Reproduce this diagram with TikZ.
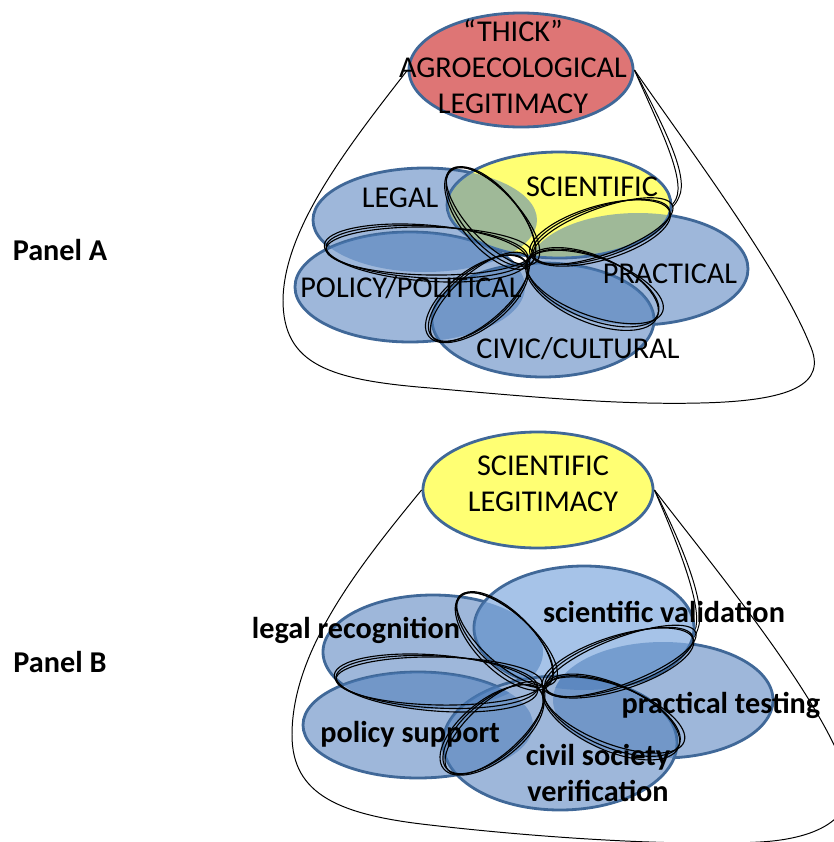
\documentclass[tikz,border=0pt]{standalone}
\usepackage{fontspec}
\setmainfont{Carlito}
\usetikzlibrary{shapes.geometric}

\definecolor{rimblue}{RGB}{64,104,152}
\definecolor{setblue}{RGB}{158,183,218}
\definecolor{lightset}{RGB}{166,195,232}
\definecolor{petalblue}{RGB}{75,124,185}
\definecolor{thickred}{RGB}{222,117,117}
\definecolor{sciyellow}{RGB}{255,255,115}

% one hand drawn loop round a petal: x, y, angle, long and short radius
\newcommand{\scribbleloop}[5]{%
  \draw[scribble, rotate around={#3:(#1,#2)}] (#1,#2) ellipse (#4 and #5);
  \draw[scribble, rotate around={#3+2:(#1+2,#2-1)}] (#1+2,#2-1) ellipse (#4+2 and #5-2);
  \draw[scribble, rotate around={#3-1.5:(#1-1,#2+1)}] (#1-1,#2+1) ellipse (#4+1 and #5+2);}

% the five sets of panel A
\def\legalA{(425,220) ellipse (112 and 52)}
\def\sciA{(559,205) ellipse (112 and 53)}
\def\pracA{(638,269) ellipse (110 and 56)}
\def\polA{(410,287) ellipse (115 and 55)}
\def\civA{(543,320) ellipse (111 and 57)}

% the five sets of panel B
\def\legalB{(433,652) ellipse (110 and 57)}
\def\sciB{(584,628) ellipse (110 and 62)}
\def\pracB{(663,700) ellipse (110 and 58)}
\def\polB{(418,725) ellipse (115 and 53)}
\def\civB{(560,743) ellipse (117 and 67)}

\begin{document}
\begin{tikzpicture}[x=0.025cm, y=-0.025cm,
  set/.style={draw=rimblue, line width=2pt},
  top/.style={ellipse, draw=rimblue, line width=2pt, inner sep=0pt},
  petal/.style={fill=petalblue, fill opacity=0.53},
  scribble/.style={draw=black, line width=0.8pt},
  cone/.style={draw=black, line width=0.7pt},
  lbl/.style={font=\fontsize{21.5}{25.6}\selectfont, align=center, inner sep=0pt},
  boldlbl/.style={lbl, font=\fontsize{21.5}{25.6}\selectfont\bfseries}]

  \useasboundingbox (0,0) rectangle (834,842);
  \clip (0,0) rectangle (834,842);

  % Panel A
  \node[top, fill=thickred, minimum width=5.6cm, minimum height=2.85cm] (thick) at (521,70) {};
  \node[lbl] (thicktxt) at (513,67) {``THICK''\\AGROECOLOGICAL\\LEGITIMACY};

  \draw[cone] (thick.west) .. controls (345,150) and (284,230) .. (283,300)
    .. controls (283,365) and (330,380) .. (430,388)
    .. controls (530,397) and (620,405) .. (700,403)
    .. controls (790,401) and (828,385) .. (810,345)
    .. controls (780,270) and (690,150) .. (thick.east);
  \draw[cone] (thick.east) .. controls (660,120) and (690,175) .. (679,197)
    .. controls (675,207) and (668,211) .. (660,214);
  \draw[cone] (thick.east) .. controls (657,122) and (686,178) .. (676,199)
    .. controls (672,207) and (666,210) .. (656,213);

  \filldraw[set, fill=setblue] \legalA;
  \filldraw[set, fill=setblue] \pracA;
  \filldraw[set, fill=setblue] \polA;
  \filldraw[set, fill=sciyellow] \sciA;
  \filldraw[set, fill=setblue] \civA;

  \begin{scope}\clip \legalA; \fill[petal] \sciA; \end{scope}
  \begin{scope}\clip \sciA; \fill[petal] \pracA; \end{scope}
  \begin{scope}\clip \legalA; \fill[petal] \polA; \end{scope}
  \begin{scope}\clip \polA; \fill[petal] \civA; \end{scope}
  \begin{scope}\clip \civA; \fill[petal] \pracA; \end{scope}

  \scribbleloop{491}{217}{-49}{61}{27}
  \scribbleloop{601}{232}{18}{72}{25}
  \scribbleloop{427}{252}{-3}{101}{26}
  \scribbleloop{478}{298}{39}{60}{27}
  \scribbleloop{593}{288}{-22}{70}{31}

  \node[lbl] (legal) at (400,198) {LEGAL};
  \node[lbl] (scientific) at (592,187) {SCIENTIFIC};
  \node[lbl] (practical) at (670,274) {PRACTICAL};
  \node[lbl] (policy) at (411,288) {POLICY/POLITICAL};
  \node[lbl] (civic) at (578,349) {CIVIC/CULTURAL};
  \node[boldlbl] (panela) at (60,250) {Panel A};

  % Panel B
  \node[top, fill=sciyellow, minimum width=5.75cm, minimum height=2.9cm] (scileg) at (538,490) {};
  \node[lbl] (scilegtxt) at (543,484) {SCIENTIFIC\\LEGITIMACY};

  \draw[cone] (scileg.west) .. controls (360,565) and (292,650) .. (292,735)
    .. controls (292,795) and (340,815) .. (430,825)
    .. controls (560,840) and (690,846) .. (760,842)
    .. controls (830,838) and (860,810) .. (845,770)
    .. controls (815,690) and (720,575) .. (scileg.east);
  \draw[cone] (scileg.east) .. controls (680,540) and (705,600) .. (699,625)
    .. controls (696,638) and (690,643) .. (680,646);
  \draw[cone] (scileg.east) .. controls (677,542) and (701,602) .. (696,627)
    .. controls (692,638) and (686,642) .. (676,645);

  \filldraw[set, fill=setblue] \legalB;
  \filldraw[set, fill=setblue] \pracB;
  \filldraw[set, fill=setblue] \polB;
  \filldraw[set, fill=lightset] \sciB;
  \filldraw[set, fill=setblue] \civB;

  \begin{scope}\clip \legalB; \fill[petal] \sciB; \end{scope}
  \begin{scope}\clip \sciB; \fill[petal] \pracB; \end{scope}
  \begin{scope}\clip \legalB; \fill[petal] \polB; \end{scope}
  \begin{scope}\clip \polB; \fill[petal] \civB; \end{scope}
  \begin{scope}\clip \civB; \fill[petal] \pracB; \end{scope}

  \scribbleloop{505}{640}{-44}{62}{27}
  \scribbleloop{619}{662}{19}{78}{25}
  \scribbleloop{437}{682}{-3}{101}{26}
  \scribbleloop{493}{729}{40}{61}{28}
  \scribbleloop{612}{716}{-23}{73}{31}

  \node[boldlbl] (legalrec) at (356,630) {legal recognition};
  \node[boldlbl] (scival) at (664,612) {scientific validation};
  \node[boldlbl] (practest) at (721,705) {practical testing};
  \node[boldlbl] (polsup) at (410,734) {policy support};
  \node[boldlbl] (civsoc) at (598,773) {civil society\\verification};
  \node[boldlbl] (panelb) at (60,662) {Panel B};

\end{tikzpicture}
\end{document}
